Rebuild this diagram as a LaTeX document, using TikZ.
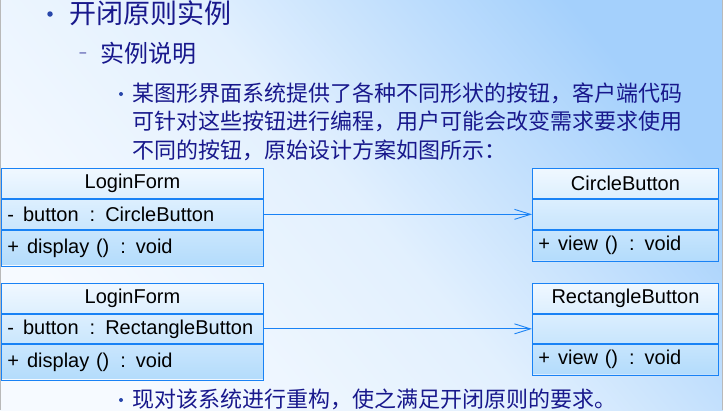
\documentclass[tikz,border=0pt]{standalone}
\usepackage{fontspec}
\setmainfont{Liberation Sans}
\newfontfamily\cjk{Noto Sans CJK SC}
\usetikzlibrary{arrows.meta}

\definecolor{umlblue}{RGB}{25,130,245}
\definecolor{navy}{RGB}{24,24,140}
\definecolor{dotblue}{RGB}{40,70,170}
\definecolor{boxtop}{RGB}{240,248,255}
\definecolor{boxbot}{RGB}{180,220,252}
\definecolor{bgtr}{RGB}{164,208,252}
\definecolor{bgmid}{RGB}{226,240,254}
\definecolor{bgbl}{RGB}{246,250,255}

\tikzset{
  clsbox/.style={anchor=north west, inner sep=0pt, top color=boxtop, bottom color=boxbot},
  part/.style={draw=umlblue, line width=0.9pt, anchor=north west, inner sep=0pt, font=\fontsize{20}{20}\selectfont},
  member/.style={part, inner xsep=6pt, align=left},
  dep/.style={draw=umlblue, line width=0.9pt, -{Straight Barb[length=16pt,width=10pt]}},
  dot/.style={circle, fill=dotblue, inner sep=0pt},
  zh/.style={text=navy, inner sep=0pt, anchor=west},
}

\begin{document}
\begin{tikzpicture}[x=1pt,y=-1pt]
	\shade[top color=bgtr, bottom color=bgbl, middle color=bgmid, shading angle=-50] (0,0) rectangle (723,410);
	\useasboundingbox (0,0) rectangle (723,410);
	\draw[gray!55, line width=1pt] (0.5,0)--(0.5,410) (722.5,0)--(722.5,410);

	% slide text
	\node[dot, minimum size=5.5pt] (b0) at (50,14) {};
	\node[zh, font=\cjk\fontsize{27}{27}\selectfont] (title) at (69,13.5) {开闭原则实例};
	\node[text=navy, inner sep=0pt, font=\fontsize{12}{12}\selectfont] (dash) at (83,55) {--};
	\node[zh, font=\cjk\fontsize{24}{24}\selectfont] (sub) at (100,53.5) {实例说明};
	\node[dot, minimum size=4pt] (b1) at (121,94) {};
	\node[zh, align=left, font=\cjk\fontsize{22}{28.5}\selectfont] (desc) at (132,121.5) {某图形界面系统提供了各种不同形状的按钮，客户端代码\\可针对这些按钮进行编程，用户可能会改变需求要求使用\\不同的按钮，原始设计方案如图所示：};
	\node[dot, minimum size=4pt] (b2) at (121,400) {};
	\node[zh, font=\cjk\fontsize{22}{22}\selectfont] (todo) at (132,399) {现对该系统进行重构，使之满足开闭原则的要求。};

	% LoginForm -> CircleButton
	\node[clsbox, minimum width=262pt, minimum height=96pt] (lf1) at (1,168) {};
	\node[part, minimum width=262pt, minimum height=30pt] (lf1name) at (lf1.north west) {LoginForm};
	\node[member, text width=250pt, minimum height=30pt] (lf1attr) at (lf1name.south west) {\mbox{-\hspace{9pt}button\hspace{11pt}: CircleButton}};
	\node[member, text width=250pt, minimum height=36pt] (lf1ops) at (lf1attr.south west) {\mbox{+\hspace{8pt}display ()\hspace{11pt}: void}};

	\node[clsbox, minimum width=186pt, minimum height=91pt] (cb) at (532,168) {};
	\node[part, minimum width=186pt, minimum height=30pt] (cbname) at (cb.north west) {CircleButton};
	\node[part, minimum width=186pt, minimum height=30pt] (cbattr) at (cbname.south west) {};
	\node[member, text width=174pt, minimum height=31pt] (cbops) at (cbattr.south west) {\mbox{+\hspace{8pt}view ()\hspace{11pt}: void}};

	\draw[dep] (lf1attr.east) -- (cbattr.west);

	% LoginForm -> RectangleButton
	\node[clsbox, minimum width=262pt, minimum height=95pt] (lf2) at (1,283) {};
	\node[part, minimum width=262pt, minimum height=30pt] (lf2name) at (lf2.north west) {LoginForm};
	\node[member, text width=250pt, minimum height=29pt] (lf2attr) at (lf2name.south west) {\mbox{-\hspace{9pt}button\hspace{11pt}: RectangleButton}};
	\node[member, text width=250pt, minimum height=36pt] (lf2ops) at (lf2attr.south west) {\mbox{+\hspace{8pt}display ()\hspace{11pt}: void}};

	\node[clsbox, minimum width=186pt, minimum height=90pt] (rb) at (532,283) {};
	\node[part, minimum width=186pt, minimum height=30pt] (rbname) at (rb.north west) {RectangleButton};
	\node[part, minimum width=186pt, minimum height=29pt] (rbattr) at (rbname.south west) {};
	\node[member, text width=174pt, minimum height=31pt] (rbops) at (rbattr.south west) {\mbox{+\hspace{8pt}view ()\hspace{11pt}: void}};

	\draw[dep] (lf2attr.east) -- (rbattr.west);
\end{tikzpicture}
\end{document}
